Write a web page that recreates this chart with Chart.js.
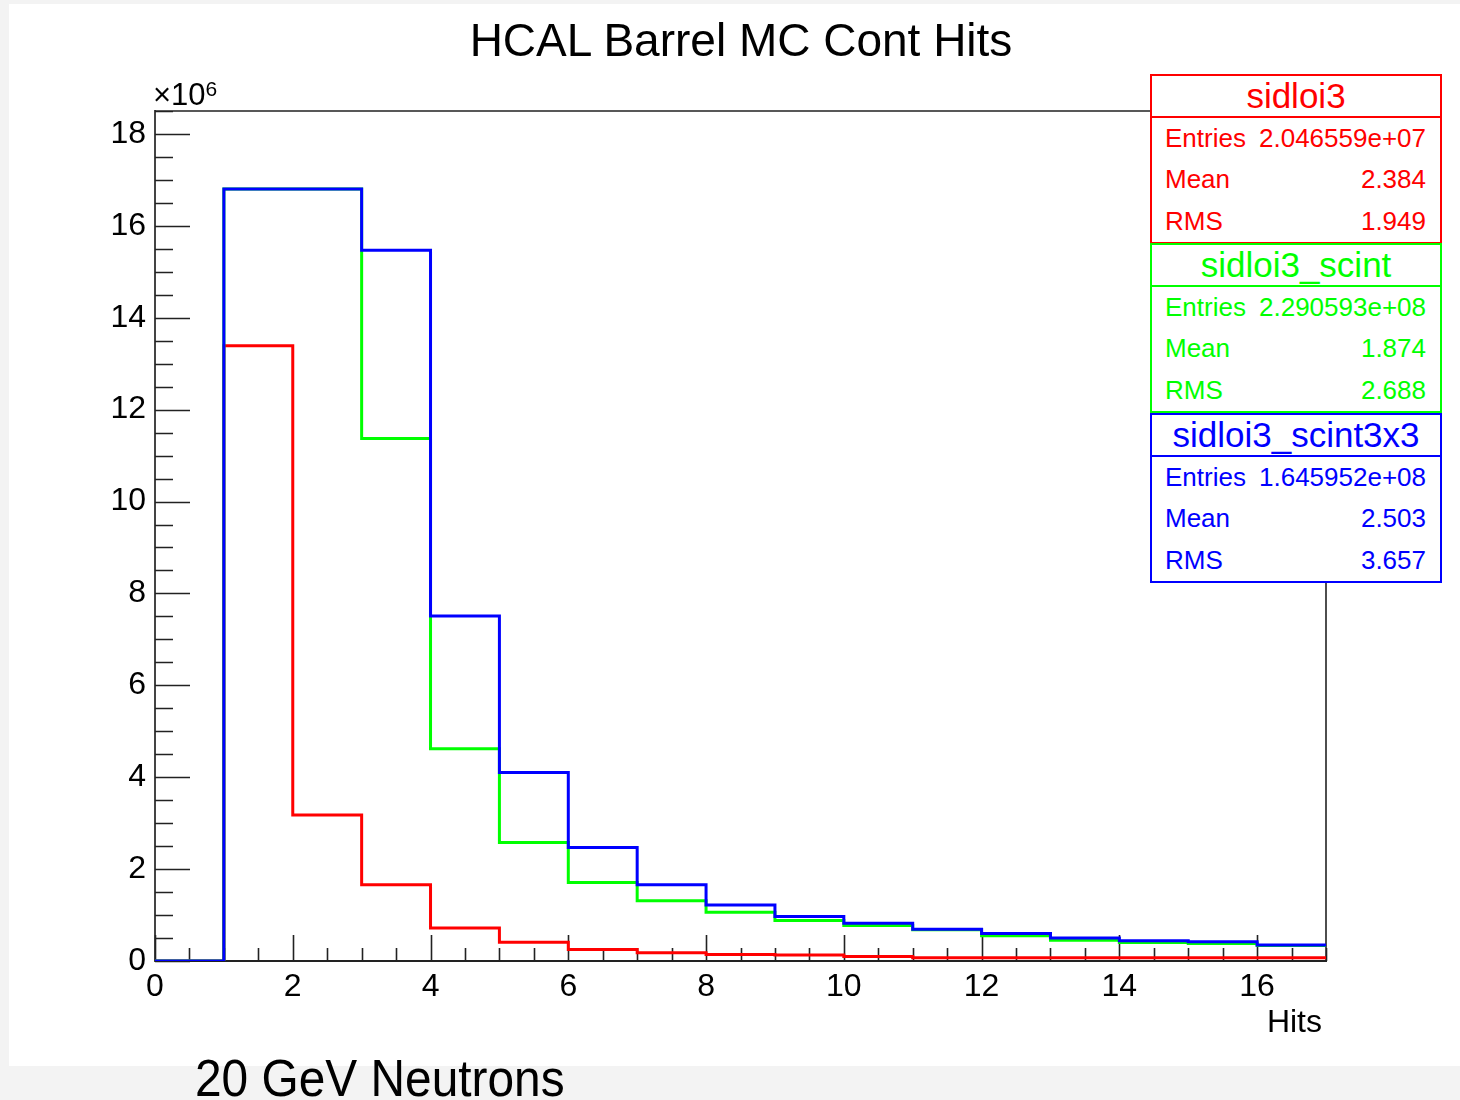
<!DOCTYPE html>
<html>
<head>
<meta charset="utf-8">
<title>HCAL Barrel MC Cont Hits</title>
<script src="https://cdn.jsdelivr.net/npm/chart.js@4.4.0/dist/chart.umd.min.js"></script>
<style>
  html, body { margin: 0; padding: 0; }
  body {
    width: 1460px; height: 1100px; position: relative; overflow: hidden;
    background: #f3f3f3;
    font-family: "Liberation Sans", Arial, Helvetica, sans-serif; color: #000;
  }
  #pad { position: absolute; left: 9px; top: 4px; width: 1451px; height: 1062px; background: #fff; }
  #hist { position: absolute; left: 0; top: 0; }
  .txt { position: absolute; white-space: nowrap; }
  #title { left: 441px; width: 600px; top: 15px; line-height: 50px; font-size: 46px; text-align: center; }
  #yexp { left: 153px; top: 77px; line-height: 36px; font-size: 31px; }
  #yexp sup { font-size: 21px; position: relative; top: -6px; vertical-align: top; }
  #xtitle { right: 138px; top: 1003px; line-height: 36px; font-size: 32px; }
  #caption { left: 195px; top: 1048px; line-height: 60px; font-size: 52px; transform: scaleX(0.92); transform-origin: left center; }
  .stats {
    position: absolute; left: 1150px; width: 292px; height: 170px;
    box-sizing: border-box; border: 2px solid; background: #fff;
  }
  .stats .head {
    height: 42px; line-height: 40px; font-size: 35px; text-align: center;
    border-bottom: 2px solid; box-sizing: border-box;
  }
  .stats .row {
    display: flex; justify-content: space-between;
    height: 41.3px; line-height: 41.3px; font-size: 26px; padding: 0 14px 0 13px;
  }
</style>
</head>
<body>
<div id="pad"></div>
<canvas id="hist" width="1460" height="1100"></canvas>
<div class="txt" id="title">HCAL Barrel MC Cont Hits</div>
<div class="txt" id="yexp">×10<sup>6</sup></div>
<div class="txt" id="xtitle">Hits</div>
<div class="txt" id="caption">20 GeV Neutrons</div>

<script>
// ---- histogram contents (bin low edges 0..16, last bin ends at 17) ----
const binEdges = [0, 1, 2, 3, 4, 5, 6, 7, 8, 9, 10, 11, 12, 13, 14, 15, 16, 17];

const hitsSidloi3 = [0, 13.39e6, 3.18e6, 1.66e6, 0.72e6, 0.41e6, 0.25e6, 0.18e6, 0.14e6,
                     0.13e6, 0.10e6, 0.07e6, 0.07e6, 0.07e6, 0.07e6, 0.07e6, 0.07e6];
const hitsScint = [0, 16.80e6, 16.80e6, 11.37e6, 4.62e6, 2.58e6, 1.71e6, 1.31e6, 1.06e6,
                   0.88e6, 0.77e6, 0.68e6, 0.55e6, 0.45e6, 0.40e6, 0.38e6, 0.34e6];
const hitsScint3x3 = [0, 16.80e6, 16.80e6, 15.47e6, 7.51e6, 4.10e6, 2.47e6, 1.66e6, 1.22e6,
                      0.97e6, 0.82e6, 0.69e6, 0.60e6, 0.50e6, 0.44e6, 0.42e6, 0.35e6];

// ---- stats boxes ----
const statNames   = ["sidloi3", "sidloi3_scint", "sidloi3_scint3x3"];
const statEntries = ["2.046559e+07", "2.290593e+08", "1.645952e+08"];
const statMeans   = ["2.384", "1.874", "2.503"];
const statRms     = ["1.949", "2.688", "3.657"];
const statColors  = ["#ff0000", "#00ff00", "#0000ff"];
const statTops    = [74, 243, 413];

// ---- axis ----
const X_MAX = 17;
const Y_MAX = 18.5e6;
const yTickValues = [0, 2e6, 4e6, 6e6, 8e6, 10e6, 12e6, 14e6, 16e6, 18e6];

// histogram -> step points for a line dataset
function toSteps(values) {
  const pts = values.map((v, i) => ({ x: binEdges[i], y: v }));
  pts.push({ x: binEdges[values.length], y: values[values.length - 1] });
  return pts;
}

// stats boxes, drawn as plain html on top of the canvas
statNames.forEach((name, i) => {
  const box = document.createElement("div");
  box.className = "stats";
  box.style.top = statTops[i] + "px";
  box.style.color = statColors[i];
  box.style.borderColor = statColors[i];
  box.innerHTML =
    '<div class="head" style="border-color:' + statColors[i] + '">' + name + '</div>' +
    '<div class="row"><span>Entries</span><span>' + statEntries[i] + '</span></div>' +
    '<div class="row"><span>Mean</span><span>' + statMeans[i] + '</span></div>' +
    '<div class="row"><span>RMS</span><span>' + statRms[i] + '</span></div>';
  document.body.appendChild(box);
});

// ROOT style frame: ticks inside the frame + top/right border
const rootFrame = {
  id: "rootFrame",
  beforeDatasetsDraw(chart) {
    const { ctx, chartArea: a, scales: { x, y } } = chart;
    ctx.save();
    ctx.strokeStyle = "#222";
    ctx.lineWidth = 1.6;
    ctx.beginPath();
    ctx.moveTo(a.left, a.top);
    ctx.lineTo(a.right, a.top);
    ctx.lineTo(a.right, a.bottom);

    // y ticks: major every 2e6, minor every 0.5e6
    for (let i = 0; i * 0.5e6 <= Y_MAX; i++) {
      const py = Math.round(y.getPixelForValue(i * 0.5e6)) + 0.5;
      const len = i % 4 === 0 ? 35 : 18;
      ctx.moveTo(a.left, py);
      ctx.lineTo(a.left + len, py);
    }
    // x ticks: major every 2, minor every 0.5
    for (let i = 0; i * 0.5 <= X_MAX; i++) {
      const px = Math.round(x.getPixelForValue(i * 0.5)) + 0.5;
      const len = i % 4 === 0 ? 26 : 13;
      ctx.moveTo(px, a.bottom);
      ctx.lineTo(px, a.bottom - len);
    }
    ctx.stroke();
    ctx.restore();
  }
};

const lineStyle = {
  borderWidth: 3,
  stepped: "before",
  pointRadius: 0,
  fill: false,
  borderJoinStyle: "miter",
  borderCapStyle: "butt"
};

const ctx = document.getElementById("hist").getContext("2d");
new Chart(ctx, {
  type: "line",
  data: {
    datasets: [
      { ...lineStyle, label: statNames[0], data: toSteps(hitsSidloi3), borderColor: statColors[0], order: 3 },
      { ...lineStyle, label: statNames[1], data: toSteps(hitsScint), borderColor: statColors[1], order: 2 },
      { ...lineStyle, label: statNames[2], data: toSteps(hitsScint3x3), borderColor: statColors[2], order: 1 }
    ]
  },
  options: {
    responsive: false,
    devicePixelRatio: 1,
    animation: false,
    events: [],
    layout: { padding: { top: 111, right: 134, left: 0, bottom: 0 } },
    plugins: {
      legend: { display: false },
      tooltip: { enabled: false },
      title: { display: false }
    },
    scales: {
      x: {
        type: "linear",
        min: 0,
        max: X_MAX,
        grid: { display: false, drawTicks: false },
        border: { display: true, color: "#222", width: 2 },
        ticks: {
          stepSize: 2,
          includeBounds: false,
          autoSkip: false,
          maxRotation: 0,
          padding: 7,
          color: "#000",
          font: { family: "Liberation Sans", size: 32 }
        },
        afterFit(scale) { scale.height = 139; }
      },
      y: {
        type: "linear",
        min: 0,
        max: Y_MAX,
        grid: { display: false, drawTicks: false },
        border: { display: true, color: "#444", width: 2 },
        ticks: {
          padding: 9,
          color: "#000",
          font: { family: "Liberation Sans", size: 32 },
          callback: (v) => v / 1e6
        },
        afterBuildTicks(scale) { scale.ticks = yTickValues.map((v) => ({ value: v })); },
        afterFit(scale) { scale.width = 155; }
      }
    }
  },
  plugins: [rootFrame]
});
</script>
</body>
</html>
